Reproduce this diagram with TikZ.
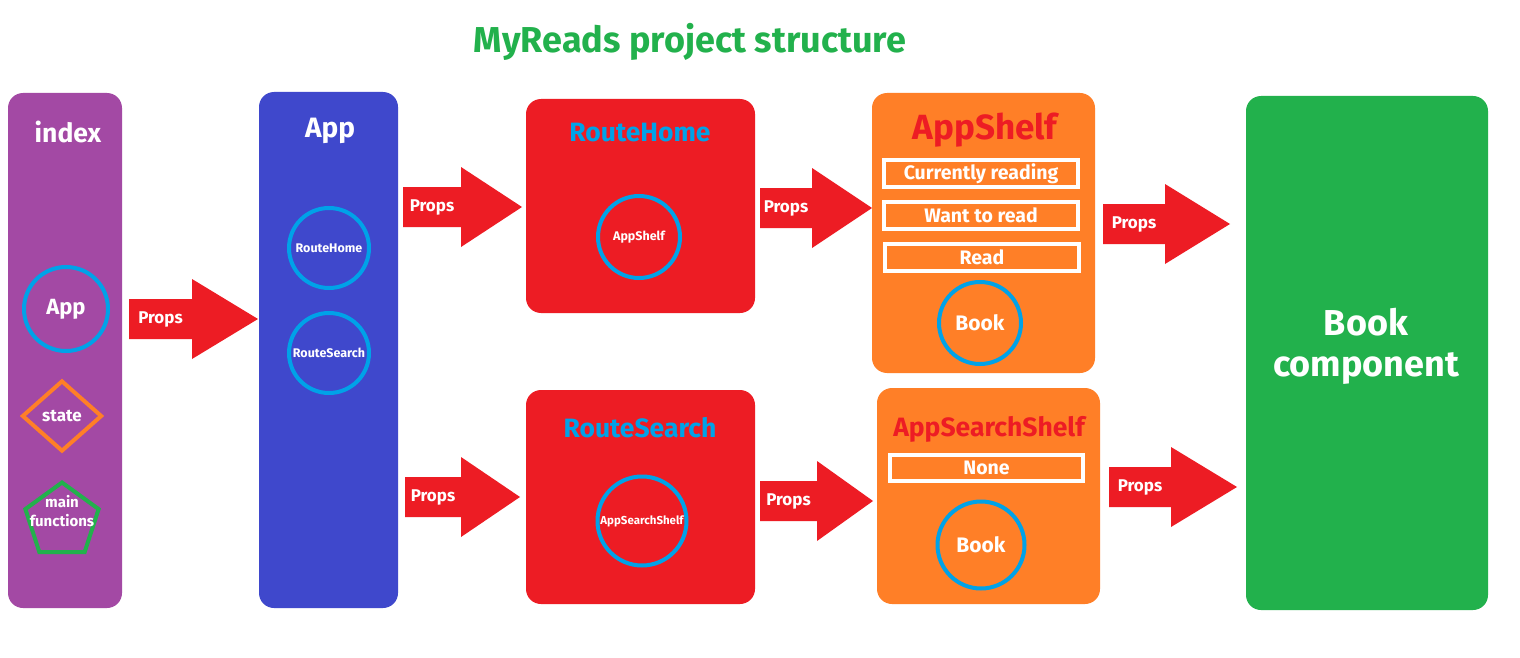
\documentclass[tikz,border=0pt]{standalone}
\usepackage{fontspec}
\setmainfont{Fira Sans}
\usetikzlibrary{shapes.geometric}
\definecolor{indexpurple}{HTML}{A349A4}
\definecolor{appblue}{HTML}{3F48CC}
\definecolor{routered}{HTML}{ED1C24}
\definecolor{shelforange}{HTML}{FF7F27}
\definecolor{bookgreen}{HTML}{22B14C}
\definecolor{ringblue}{HTML}{00A2E8}
\tikzset{
  box/.style={rounded corners=15pt, inner sep=0pt},
  ring/.style={circle, draw=ringblue, line width=4pt, inner sep=0pt, text=white,
    font=\bfseries\fontsize{12.5}{14}\selectfont},
  shelfrow/.style={draw=white, line width=4pt, minimum width=194pt, minimum height=27pt,
    inner sep=0pt, text=white, font=\bfseries\fontsize{19.5}{21}\selectfont},
  boxtitle/.style={font=\bfseries\fontsize{26.5}{30}\selectfont},
  propstext/.style={text=white, font=\bfseries\fontsize{17}{20}\selectfont},
}
% #1 name, #2 start, #3 head start, #4 tip, #5 height
\newcommand{\propsarrow}[5]{%
  \fill[routered] (#2,#5-20) -- (#3,#5-20) -- (#3,#5-40) -- (#4,#5)
    -- (#3,#5+40) -- (#3,#5+20) -- (#2,#5+20) -- cycle;
  \node[propstext] (#1) at ({(#2+#3)/2},#5) {Props};}
\begin{document}
\begin{tikzpicture}[x=1pt,y=-1pt]
  \useasboundingbox[fill=white] (0,0) rectangle (1520,658);
  \node[text=bookgreen, font=\bfseries\fontsize{36}{40}\selectfont] (title) at (690,42) {MyReads project structure};

  % index
  \node[box, fill=indexpurple, minimum width=114pt, minimum height=515pt] (index) at (65,350.5) {};
  \node[boxtitle, text=white] (indextitle) at (68,132) {index};
  \node[ring, minimum size=84pt, font=\bfseries\fontsize{22}{24}\selectfont] (indexapp) at (66,309) {App};
  \node[diamond, draw=shelforange, line width=4pt, minimum width=80pt, minimum height=71pt,
    inner sep=0pt, text=white, font=\bfseries\fontsize{17}{19}\selectfont] (state) at (62,416) {state};
  \node[regular polygon, regular polygon sides=5, draw=bookgreen, line width=4pt,
    minimum size=77pt, inner sep=0pt] (funcs) at (62,521) {};
  \node[text=white, align=center, font=\bfseries\fontsize{15}{19}\selectfont] (funcstext) at (62,511) {main\\functions};
  \propsarrow{p1}{129}{192}{258}{319}

  % App
  \node[box, fill=appblue, minimum width=139pt, minimum height=516pt] (app) at (328.5,350) {};
  \node[boxtitle, text=white, font=\bfseries\fontsize{28}{30}\selectfont] (apptitle) at (330,131) {App};
  \node[ring, minimum size=80pt] (apphome) at (329,248) {RouteHome};
  \node[ring, minimum size=80pt] (appsearch) at (329,353) {RouteSearch};
  \propsarrow{p2}{403}{461}{522}{207}
  \propsarrow{p3}{405}{461}{520}{497}

  % routes
  \node[box, fill=routered, minimum width=229pt, minimum height=214pt] (routehome) at (640.5,206) {};
  \node[boxtitle, text=ringblue] (routehometitle) at (640,133) {RouteHome};
  \node[ring, minimum size=82pt] (homeshelf) at (639,237) {AppShelf};
  \node[box, fill=routered, minimum width=229pt, minimum height=214pt] (routesearch) at (640.5,497) {};
  \node[boxtitle, text=ringblue] (routesearchtitle) at (640,428) {RouteSearch};
  \node[ring, minimum size=89pt, font=\bfseries\fontsize{11.5}{13}\selectfont] (searchshelf) at (642,521) {AppSearchShelf};
  \propsarrow{p4}{760}{812}{872}{208}
  \propsarrow{p5}{760}{817}{873}{501}

  % shelves
  \node[box, fill=shelforange, minimum width=223pt, minimum height=280pt] (appshelf) at (983.5,233) {};
  \node[text=routered, font=\bfseries\fontsize{35}{38}\selectfont] (appshelftitle) at (985,130) {AppShelf};
  \node[shelfrow] (current) at (981,173.5) {Currently reading};
  \node[shelfrow] (want) at (981,215.5) {Want to read};
  \node[shelfrow] (read) at (982,257) {Read};
  \node[ring, minimum size=82pt, font=\bfseries\fontsize{21}{23}\selectfont] (shelfbook) at (980,323) {Book};
  \node[box, fill=shelforange, minimum width=223pt, minimum height=216pt] (appsearchshelf) at (988.5,496) {};
  \node[boxtitle, text=routered] (appsearchshelftitle) at (989,429) {AppSearchShelf};
  \node[shelfrow, minimum width=193pt, minimum height=26pt] (none) at (986.5,468) {None};
  \node[ring, minimum size=87pt, font=\bfseries\fontsize{21}{23}\selectfont] (searchbook) at (981,545) {Book};
  \propsarrow{p6}{1103}{1165}{1230}{224}
  \propsarrow{p7}{1109}{1171}{1237}{487}

  % Book
  \node[box, fill=bookgreen, minimum width=242pt, minimum height=514pt] (book) at (1367,353) {};
  \node[text=white, align=center, font=\bfseries\fontsize{36}{41}\selectfont] (booktitle) at (1366,346) {Book\\component};
\end{tikzpicture}
\end{document}
